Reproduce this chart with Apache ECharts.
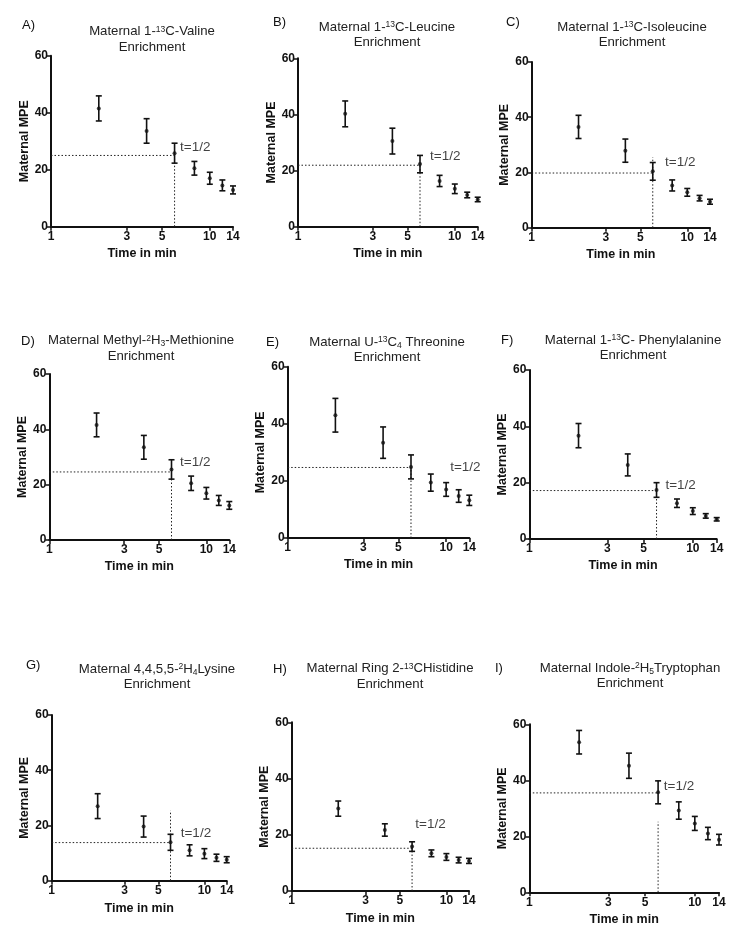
<!DOCTYPE html>
<html>
<head>
<meta charset="utf-8">
<script src="https://cdn.jsdelivr.net/npm/echarts@6/dist/echarts.min.js"></script>
<style>
html,body{margin:0;padding:0;background:#fff;}
#chart{width:747px;height:937px;}
</style>
</head>
<body>
<div id="chart"></div>
<script>
// ---- data ----
const times = [2, 4, 6, 8, 10, 12, 14];
const xTickValues = [1, 3, 5, 10, 14];
const yTickValues = [0, 20, 40, 60];
const panelLetters = ['A)', 'B)', 'C)', 'D)', 'E)', 'F)', 'G)', 'H)', 'I)'];

const meanA = [41.5, 33.6, 25.8, 20.5, 17.0, 14.5, 12.9];
const errA  = [4.4, 4.3, 3.5, 2.4, 2.1, 1.9, 1.4];
const meanB = [40.2, 30.5, 22.3, 16.3, 13.5, 11.3, 9.7];
const errB  = [4.6, 4.6, 3.1, 2.0, 1.7, 1.0, 0.8];
const meanC = [36.5, 27.9, 20.4, 15.3, 12.8, 10.7, 9.4];
const errC  = [4.2, 4.2, 3.2, 2.0, 1.4, 1.0, 0.9];
const meanD = [41.6, 33.5, 25.5, 20.5, 16.9, 14.3, 12.5];
const errD  = [4.3, 4.3, 3.5, 2.6, 2.1, 1.8, 1.4];
const meanE = [43.0, 33.4, 24.9, 19.4, 17.0, 14.7, 13.2];
const errE  = [5.9, 5.5, 4.2, 3.0, 2.4, 2.2, 1.8];
const meanF = [36.7, 26.3, 17.4, 12.7, 9.9, 8.2, 7.0];
const errF  = [4.3, 3.9, 2.6, 1.5, 1.2, 0.8, 0.6];
const meanG = [27.0, 19.6, 13.9, 11.0, 9.8, 8.3, 7.6];
const errG  = [4.5, 3.8, 2.9, 2.0, 1.8, 1.3, 1.1];
const meanH = [29.3, 21.7, 15.8, 13.4, 12.1, 11.0, 10.7];
const errH  = [2.7, 2.2, 1.7, 1.2, 1.2, 1.0, 0.9];
const meanI = [53.6, 45.2, 35.7, 29.2, 24.6, 21.0, 18.8];
const errI  = [4.2, 4.5, 4.1, 3.1, 2.5, 2.2, 1.9];

// half-life guide lines (t = 6 min)
const halfTime = 6;
const halfLevel = [25.0, 21.9, 19.8, 24.6, 24.7, 17.2, 13.8, 15.2, 35.5];
const halfVertTop = [25.0, 21.9, 25.5, 24.6, 24.7, 17.2, 25.4, 15.2, 25.2];
// "t=1/2" annotation anchor (data units)
const tLabelX = [6.5, 6.95, 7.2, 6.8, 10.6, 6.8, 7.0, 6.3, 6.5];
const tLabelY = [28, 25, 23.7, 28, 24.7, 18.9, 17.1, 23.6, 38];

const titleRich = [
  '{n|Maternal 1-}{sup|13}{n|C-Valine}\n{n|Enrichment}',
  '{n|Maternal 1-}{sup|13}{n|C-Leucine}\n{n|Enrichment}',
  '{n|Maternal 1-}{sup|13}{n|C-Isoleucine}\n{n|Enrichment}',
  '{n|Maternal Methyl-}{sup|2}{n|H}{sub|3}{n|-Methionine}\n{n|Enrichment}',
  '{n|Maternal U-}{sup|13}{n|C}{sub|4}{n| Threonine}\n{n|Enrichment}',
  '{n|Maternal 1-}{sup|13}{n|C- Phenylalanine}\n{n|Enrichment}',
  '{n|Maternal 4,4,5,5-}{sup|2}{n|H}{sub|4}{n|Lysine}\n{n|Enrichment}',
  '{n|Maternal Ring 2-}{sup|13}{n|CHistidine}\n{n|Enrichment}',
  '{n|Maternal Indole-}{sup|2}{n|H}{sub|5}{n|Tryptophan}\n{n|Enrichment}'
];

const means = [meanA, meanB, meanC, meanD, meanE, meanF, meanG, meanH, meanI];
const errs = [errA, errB, errC, errD, errE, errF, errG, errH, errI];

// ---- layout ----
const grids = [
  {left: 51, top: 55.7, width: 182, height: 171},
  {left: 298, top: 58.3, width: 179.7, height: 168.4},
  {left: 531.7, top: 62, width: 178.3, height: 165.7},
  {left: 49.3, top: 374, width: 180, height: 166},
  {left: 287.7, top: 366.7, width: 181.6, height: 171.3},
  {left: 529.3, top: 370, width: 187.4, height: 169},
  {left: 51.7, top: 715, width: 175, height: 165.7},
  {left: 291.7, top: 722.3, width: 177.3, height: 168.7},
  {left: 529.3, top: 724.3, width: 189.7, height: 168}
];
const letterPos = [[22,25],[273,22],[506,22],[21,341],[266,342],[501,340],[26,665],[273,669],[495,668]];
const titlePos = [[152,39.5],[387,35],[632,35],[141,348.5],[387,350],[633,348],[157,677],[390,676.5],[630,676]];

const FONT = '"Liberation Sans", Arial, sans-serif';
const BLACK = '#111';

const option = {
  backgroundColor: '#fff',
  animation: false,
  grid: [],
  xAxis: [],
  yAxis: [],
  series: [],
  graphic: []
};

for (let i = 0; i < 9; i++) {
  const g = grids[i];
  option.grid.push({left: g.left, top: g.top, width: g.width, height: g.height, containLabel: false});
  option.xAxis.push({
    type: 'log', logBase: 10, gridIndex: i, min: 1, max: 14,
    name: 'Time in min', nameLocation: 'middle', nameGap: i >= 6 ? 21 : 20,
    nameTextStyle: {fontFamily: FONT, fontWeight: 'bold', fontSize: 12.5, color: BLACK},
    axisLine: {lineStyle: {color: BLACK, width: 2}},
    axisTick: {show: true, length: 4, lineStyle: {color: BLACK, width: 1.5}, customValues: xTickValues},
    axisLabel: {fontFamily: FONT, fontWeight: 'bold', fontSize: 12, color: BLACK, margin: 4, customValues: xTickValues},
    splitLine: {show: false},
    minorTick: {show: false}
  });
  option.yAxis.push({
    type: 'value', gridIndex: i, min: 0, max: 60, interval: 20,
    name: 'Maternal MPE', nameLocation: 'middle', nameGap: 16.5, nameRotate: 90,
    nameTextStyle: {fontFamily: FONT, fontWeight: 'bold', fontSize: 12.5, color: BLACK},
    axisLine: {show: true, lineStyle: {color: BLACK, width: 2}},
    axisTick: {show: true, length: 4, lineStyle: {color: BLACK, width: 1.5}},
    axisLabel: {fontFamily: FONT, fontWeight: 'bold', fontSize: 12, color: BLACK, margin: 3},
    splitLine: {show: false}
  });

  const pts = times.map((t, k) => [t, means[i][k]]);
  const bars = times.map((t, k) => [t, means[i][k] - errs[i][k], means[i][k] + errs[i][k]]);

  // dotted guide lines
  option.series.push({
    type: 'line', xAxisIndex: i, yAxisIndex: i, silent: true,
    data: [[1, halfLevel[i]], [halfTime, halfLevel[i]]],
    symbol: 'none', lineStyle: {color: '#222', width: 1, type: [1.5, 2]}, z: 1
  });
  option.series.push({
    type: 'line', xAxisIndex: i, yAxisIndex: i, silent: true,
    data: [[halfTime, 0], [halfTime, halfVertTop[i]]],
    symbol: 'none', lineStyle: {color: '#222', width: 1, type: [1.5, 2]}, z: 1
  });
  // error bars
  option.series.push({
    type: 'custom', xAxisIndex: i, yAxisIndex: i, silent: true,
    data: bars,
    encode: {x: 0, y: [1, 2]},
    renderItem: function (params, api) {
      const x = api.value(0);
      const lo = api.coord([x, api.value(1)]);
      const hi = api.coord([x, api.value(2)]);
      const c = 3;
      const st = {stroke: BLACK, lineWidth: 1.6};
      return {
        type: 'group',
        children: [
          {type: 'line', shape: {x1: hi[0], y1: hi[1], x2: lo[0], y2: lo[1]}, style: st},
          {type: 'line', shape: {x1: hi[0] - c, y1: hi[1], x2: hi[0] + c, y2: hi[1]}, style: st},
          {type: 'line', shape: {x1: lo[0] - c, y1: lo[1], x2: lo[0] + c, y2: lo[1]}, style: st}
        ]
      };
    },
    z: 2
  });
  // mean points
  option.series.push({
    type: 'scatter', xAxisIndex: i, yAxisIndex: i, silent: true,
    data: pts, symbol: 'circle', symbolSize: 4,
    itemStyle: {color: BLACK}, z: 3
  });
  // t=1/2 annotation
  option.series.push({
    type: 'scatter', xAxisIndex: i, yAxisIndex: i, silent: true,
    data: [[tLabelX[i], tLabelY[i]]], symbolSize: 0,
    label: {show: true, position: 'right', distance: 0, formatter: 't=1/2',
      fontFamily: FONT, fontSize: 13.5, color: BLACK},
    z: 4
  });

  option.graphic.push({
    type: 'text', x: letterPos[i][0], y: letterPos[i][1],
    style: {text: panelLetters[i], font: '13px ' + FONT, fill: BLACK, textVerticalAlign: 'middle', textAlign: 'left'}
  });
  option.graphic.push({
    type: 'text', x: titlePos[i][0], y: titlePos[i][1],
    style: {
      text: titleRich[i], textAlign: 'center', textVerticalAlign: 'middle', fill: '#222',
      rich: {
        n: {fontFamily: FONT, fontSize: 13.2, lineHeight: 15.5, color: '#222'},
        sup: {fontFamily: FONT, fontSize: 8.5, lineHeight: 15.5, verticalAlign: 'top', padding: [1, 0, 0, 0], color: '#222'},
        sub: {fontFamily: FONT, fontSize: 8.5, lineHeight: 15.5, verticalAlign: 'bottom', color: '#222'}
      }
    }
  });
}

const chart = echarts.init(document.getElementById('chart'), null, {renderer: 'canvas'});
chart.setOption(option);
</script>
</body>
</html>
